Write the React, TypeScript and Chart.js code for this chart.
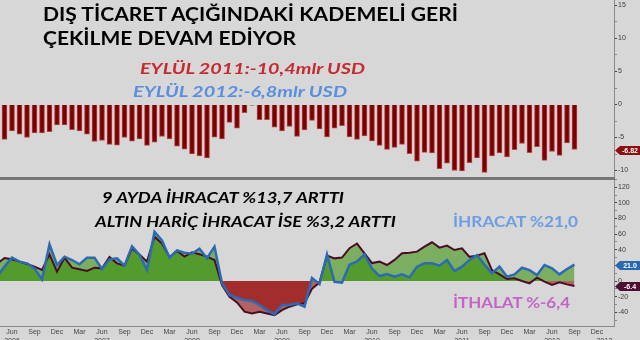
import React, { useEffect, useRef } from "react";
import { Chart, registerables } from "chart.js";

Chart.register(...registerables);
Chart.defaults.font.family = "'Liberation Sans', Arial, sans-serif";

// ---------- DATA ----------
const months = [
  "Apr 2006","May 2006","Jun 2006","Jul 2006","Aug 2006","Sep 2006","Oct 2006","Nov 2006","Dec 2006",
  "Jan 2007","Feb 2007","Mar 2007","Apr 2007","May 2007","Jun 2007","Jul 2007","Aug 2007","Sep 2007","Oct 2007","Nov 2007","Dec 2007",
  "Jan 2008","Feb 2008","Mar 2008","Apr 2008","May 2008","Jun 2008","Jul 2008","Aug 2008","Sep 2008","Oct 2008","Nov 2008","Dec 2008",
  "Jan 2009","Feb 2009","Mar 2009","Apr 2009","May 2009","Jun 2009","Jul 2009","Aug 2009","Sep 2009","Oct 2009","Nov 2009","Dec 2009",
  "Jan 2010","Feb 2010","Mar 2010","Apr 2010","May 2010","Jun 2010","Jul 2010","Aug 2010","Sep 2010","Oct 2010","Nov 2010","Dec 2010",
  "Jan 2011","Feb 2011","Mar 2011","Apr 2011","May 2011","Jun 2011","Jul 2011","Aug 2011","Sep 2011","Oct 2011","Nov 2011","Dec 2011",
  "Jan 2012","Feb 2012","Mar 2012","Apr 2012","May 2012","Jun 2012","Jul 2012","Aug 2012","Sep 2012","Oct 2012","Nov 2012","Dec 2012",
  "Jan 2013","Feb 2013",
];

// Monthly trade balance, bn USD (Apr 2006 .. Sep 2012)
const tradeBalance = [
  null, -5.3, -4.0, -4.5, -5.0, -4.3, -4.3, -4.1, -3.1,
  -3.1, -3.8, -4.0, -4.5, -5.6, -5.45, -6.05, -6.15, -5.0, -5.55, -5.2, -6.2,
  -5.7, -4.85, -5.2, -6.3, -6.75, -7.5, -7.8, -8.1, -4.95, -5.2, -2.7, -3.6,
  -1.25, -0.1, -2.3, -2.3, -3.45, -4.0, -3.3, -4.85, -3.85, -2.4, -3.7, -4.9,
  -3.6, -3.2, -4.9, -5.3, -4.75, -5.5, -6.2, -6.8, -6.5, -6.05, -7.45, -8.6,
  -7.25, -7.35, -9.7, -8.9, -10.0, -10.05, -8.8, -8.1, -10.3, -7.8, -7.35, -7.95,
  -6.85, -5.9, -7.3, -6.4, -8.45, -7.1, -7.7, -5.8, -6.82,
];

// Exports, % y/y (Apr 2006 .. Sep 2012)
const exportsYoY = [
  5.6, 18.4, 29.9, 24.8, 22.6, 16.2, 2.1, 47, 20.5,
  31.2, 26.9, 21.4, 29.9, 29.9, 15.4, 27.8, 29.1, 19.7, 44.4, 33.8, 14.1,
  63.2, 52, 29.9, 39.3, 36.3, 35.0, 41.5, 29.1, 44.0, -3, -17.9, -21.4,
  -24.4, -25.6, -30.8, -37.2, -42.7, -30.8, -30.8, -28.6, -32.9, 4, -4, 34,
  -1, -2, 21, 25, 34, 16, 6.4, 9, 5.6, 8.5, 4.7, 18.4,
  22.6, 22.6, 19.7, 27, 12.8, 18.4, 27, 33, 21, 10, 18.4, 5.6,
  8.5, 17, 14, 7.7, 20.5, 16.2, 8.5, 15.4, 21.0,
];

// Imports, % y/y (Apr 2006 .. Sep 2012)
const importsYoY = [
  22.2, 29.5, 27.8, 24.8, 21.8, 18.4, 14.1, 34.2, 12.0,
  29.9, 17.1, 15.0, 12.8, 17.1, 16.2, 30.8, 22.6, 19.7, 41.9, 33.8, 24.8,
  56.8, 48, 30.8, 38.5, 31.2, 36.8, 34.2, 31.2, 26.9, -5.1, -20.1, -27.4,
  -39.3, -41.5, -39.3, -41.5, -43.6, -37.2, -32.9, -29.9, -28.6, -10, -2, 32.5,
  29, 30, 42, 48, 35.5, 23, 24.8, 20.5, 27, 35.5, 36.3, 37.6,
  44, 49.6, 42.7, 45.3, 39.7, 41.9, 31, 32.5, 35.5, 14, 8.5, 2.6,
  3.4, 0, -3, 4.3, -0.9, -5.1, -1.7, -4.3, -6.4,
];

const quarterTicks = [
  "Jun 2006","Sep 2006","Dec 2006","Mar 2007","Jun 2007","Sep 2007","Dec 2007",
  "Mar 2008","Jun 2008","Sep 2008","Dec 2008","Mar 2009","Jun 2009","Sep 2009","Dec 2009",
  "Mar 2010","Jun 2010","Sep 2010","Dec 2010","Mar 2011","Jun 2011","Sep 2011","Dec 2011",
  "Mar 2012","Jun 2012","Sep 2012","Dec 2012",
];
const yearTicks = ["Jun 2006","Jun 2007","Jun 2008","Jun 2009","Jun 2010","Jun 2011","Jun 2012","Jan 2013"];
const yearLabels = ["2006","2007","2008","2009","2010","2011","2012","2013"];

const topMajorTicks = [-10, -5, 0, 5, 10, 15];
const topMinorTicks = [-7.5, -2.5, 2.5, 7.5, 12.5];
const botMajorTicks = [-40, -20, 0, 20, 40, 60, 80, 100, 120];
const botMinorTicks = [-50, -30, -10, 10, 30, 50, 70, 90, 110, 130];

const titles = [
  { text: "DIŞ TİCARET AÇIĞINDAKİ KADEMELİ GERİ", x: 43, y: 21, w: 415, size: 18, color: "#000000", italic: false },
  { text: "ÇEKİLME DEVAM EDİYOR", x: 43, y: 45, w: 253, size: 18, color: "#000000", italic: false },
  { text: "EYLÜL 2011:-10,4mlr USD", x: 140, y: 74, w: 225, size: 15, color: "#c62a30", italic: true },
  { text: "EYLÜL 2012:-6,8mlr USD", x: 133, y: 96.5, w: 214, size: 15, color: "#5a8ede", italic: true },
  { text: "9 AYDA İHRACAT %13,7 ARTTI", x: 102, y: 203, w: 242, size: 16, color: "#000000", italic: true },
  { text: "ALTIN HARİÇ İHRACAT İSE %3,2 ARTTI", x: 95, y: 226.5, w: 301, size: 16, color: "#000000", italic: true },
  { text: "İHRACAT %21,0", x: 453, y: 227, w: 125, size: 15.5, color: "#6d9de3", italic: false },
  { text: "İTHALAT %-6,4", x: 453, y: 308, w: 117, size: 15.5, color: "#c563c8", italic: false },
];

// ---------- LAYOUT / STYLE ----------
const BG = "#d7d7d7";
const X_MIN = 0.4;
const X_MAX = 0.4 + 614 / 7.5;
const AXIS_W = 26;

const toXY = (arr: (number | null)[]) => arr.map((v, i) => ({ x: i, y: v }));
const idx = (m: string) => months.indexOf(m);

const badgePlugin = {
  id: "badges",
  afterDraw(chart: any, _args: any, opts: any) {
    const ctx = chart.ctx;
    const ys = chart.scales.y;
    (opts.items || []).forEach((it: any) => {
      const data = chart.data.datasets[it.dataset].data;
      const last = data[data.length - 1].y;
      const yc = Math.round(ys.getPixelForValue(last)) + 0.5;
      const x0 = ys.left + 1;
      ctx.save();
      ctx.fillStyle = it.color;
      ctx.beginPath();
      ctx.moveTo(x0, yc);
      ctx.lineTo(x0 + 5, yc - 4.5);
      ctx.lineTo(640, yc - 4.5);
      ctx.lineTo(640, yc + 4.5);
      ctx.lineTo(x0 + 5, yc + 4.5);
      ctx.closePath();
      ctx.fill();
      ctx.fillStyle = "#ffffff";
      ctx.font = "bold 7px 'Liberation Sans', Arial, sans-serif";
      ctx.textAlign = "center";
      ctx.textBaseline = "middle";
      ctx.fillText(last.toFixed(it.decimals), x0 + 15, yc + 0.5);
      ctx.restore();
    });
  },
};

function yAxis(min: number, max: number, major: number[], minor: number[]) {
  return {
    type: "linear",
    position: "right",
    min,
    max,
    afterBuildTicks: (s: any) => {
      s.ticks = [
        ...major.map((v) => ({ value: v })),
        ...minor.map((v) => ({ value: v, minor: true })),
      ].sort((a, b) => a.value - b.value);
    },
    afterFit: (s: any) => {
      s.width = AXIS_W;
      s.paddingTop = 0;
      s.paddingBottom = 0;
    },
    grid: {
      display: true,
      drawOnChartArea: false,
      drawTicks: true,
      tickLength: 3,
      tickColor: (c: any) => (c.tick && c.tick.minor ? "#8a8a8a" : "#444444"),
    },
    border: { display: true, color: "#8a8a8a", width: 1 },
    ticks: {
      autoSkip: false,
      padding: 1,
      color: "#3a3a3a",
      font: { size: 7 },
      callback: (v: number) => (major.includes(v) ? String(v) : ""),
    },
  };
}

export default function App() {
  const topRef = useRef<HTMLCanvasElement>(null);
  const botRef = useRef<HTMLCanvasElement>(null);

  useEffect(() => {
    const top = new Chart(topRef.current as HTMLCanvasElement, {
      type: "bar",
      data: {
        datasets: [
          {
            data: toXY(tradeBalance),
            backgroundColor: "#7c0000",
            borderColor: "#b24848",
            borderWidth: { left: 1, right: 1, top: 0, bottom: 1 },
            borderSkipped: false,
            barThickness: 5,
          },
        ],
      },
      options: {
        animation: false,
        responsive: false,
        maintainAspectRatio: false,
        layout: { padding: 0 },
        plugins: {
          legend: { display: false },
          tooltip: { enabled: false },
          badges: { items: [{ dataset: 0, color: "#8c0f10", decimals: 2 }] },
        } as any,
        scales: {
          x: { type: "linear", min: X_MIN, max: X_MAX, offset: false, display: false },
          y: yAxis(-10.98, 15.83, topMajorTicks, topMinorTicks) as any,
        },
      },
      plugins: [badgePlugin],
    } as any);

    const xTickValues = [...quarterTicks, "Jan 2013"].map(idx).sort((a, b) => a - b);

    const bot = new Chart(botRef.current as HTMLCanvasElement, {
      type: "line",
      data: {
        datasets: [
          {
            label: "İhracat",
            data: toXY(exportsYoY),
            borderColor: "#2c6bb2",
            borderWidth: 2.5,
            pointRadius: 0,
            tension: 0,
            fill: { target: "origin", above: "rgba(50,140,0,0.55)", below: "rgba(150,0,0,0.55)" },
          },
          {
            label: "İthalat",
            data: toXY(importsYoY),
            borderColor: "#4a0d26",
            borderWidth: 2,
            pointRadius: 0,
            tension: 0,
            fill: { target: "origin", above: "rgba(50,140,0,0.55)", below: "rgba(150,0,0,0.55)" },
          },
        ],
      },
      options: {
        animation: false,
        responsive: false,
        maintainAspectRatio: false,
        layout: { padding: 0 },
        plugins: {
          legend: { display: false },
          tooltip: { enabled: false },
          filler: { drawTime: "beforeDatasetsDraw" },
          badges: {
            items: [
              { dataset: 0, color: "#2b68ad", decimals: 1 },
              { dataset: 1, color: "#4e1030", decimals: 1 },
            ],
          },
        } as any,
        scales: {
          x: {
            type: "linear",
            min: X_MIN,
            max: X_MAX,
            offset: false,
            afterBuildTicks: (s: any) => {
              s.ticks = xTickValues.map((v) => ({ value: v }));
            },
            afterFit: (s: any) => {
              s.height = 14;
              s.paddingLeft = 0;
              s.paddingRight = 0;
            },
            grid: { display: false, drawTicks: false },
            border: { display: true, color: "#8a8a8a", width: 1 },
            ticks: {
              autoSkip: false,
              maxRotation: 0,
              minRotation: 0,
              padding: 2,
              color: "#444444",
              font: { size: 7 },
              callback: (v: number) => {
                const m = months[v];
                const mon = quarterTicks.includes(m) ? m.split(" ")[0] : "";
                const yi = yearTicks.indexOf(m);
                return [mon, yi >= 0 ? yearLabels[yi] : ""];
              },
            },
          },
          y: yAxis(-57.6, 131.9, botMajorTicks, botMinorTicks) as any,
        },
      },
      plugins: [badgePlugin],
    } as any);

    return () => {
      top.destroy();
      bot.destroy();
    };
  }, []);

  return (
    <div style={{ position: "fixed", left: 0, top: 0, width: 640, height: 340, background: BG, overflow: "hidden" }}>
      <canvas
        ref={topRef}
        width={640}
        height={177}
        style={{ position: "absolute", left: 0, top: 0, width: 640, height: 177, display: "block" }}
      />
      <canvas
        ref={botRef}
        width={640}
        height={162}
        style={{ position: "absolute", left: 0, top: 178, width: 640, height: 162, display: "block" }}
      />
      <div style={{ position: "absolute", left: 0, top: 177, width: 615, height: 3, background: "#767676" }} />
      <svg
        width={640}
        height={340}
        style={{ position: "absolute", left: 0, top: 0, pointerEvents: "none" }}
      >
        {titles.map((t, i) => (
          <text
            key={i}
            x={t.x}
            y={t.y}
            textLength={t.w}
            lengthAdjust="spacingAndGlyphs"
            fill={t.color}
            style={{
              fontFamily: "Lato, 'Open Sans', sans-serif",
              fontWeight: 700,
              fontStyle: t.italic ? "italic" : "normal",
              fontSize: t.size,
            }}
          >
            {t.text}
          </text>
        ))}
      </svg>
    </div>
  );
}
